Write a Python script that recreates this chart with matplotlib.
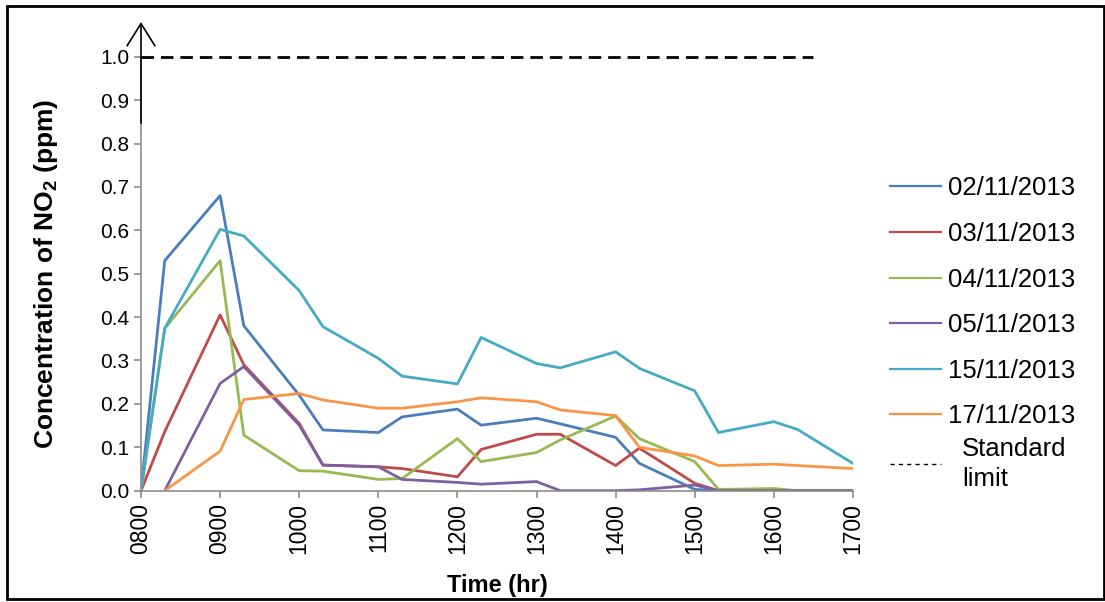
import numpy as np
import matplotlib
matplotlib.use("Agg")
import matplotlib.pyplot as plt
from matplotlib.patches import Rectangle

plt.rcParams['font.family'] = ['Liberation Sans', 'DejaVu Sans']
plt.rcParams['mathtext.fontset'] = 'custom'
plt.rcParams['mathtext.rm'] = 'Liberation Sans:bold'
plt.rcParams['mathtext.it'] = 'Liberation Sans:bold'
plt.rcParams['mathtext.bf'] = 'Liberation Sans:bold'

# waktu pengukuran (hhmm sebagai angka)
times = [800, 830, 900, 930, 1000, 1030, 1100, 1130, 1200, 1230,
         1300, 1330, 1400, 1430, 1500, 1530, 1600, 1630, 1700]
nan = np.nan

d0211 = [0.0, 0.53, 0.68, 0.38, 0.22, 0.14, 0.134, 0.17, 0.188, 0.151,
         0.167, 0.154, 0.123, 0.063, 0.003, 0.0, 0.0, 0.0, 0.0]
d0311 = [0.0, 0.136, 0.405, 0.29, 0.155, 0.059, 0.055, 0.051, 0.032, 0.095,
         0.13, 0.13, 0.058, 0.098, 0.017, 0.0, 0.0, 0.0, 0.0]
d0411 = [0.0, 0.374, 0.53, 0.128, 0.046, 0.045, 0.026, 0.028, 0.12, 0.067,
         0.088, 0.117, 0.172, 0.12, 0.067, 0.003, 0.005, 0.0, 0.0]
d0511 = [nan, 0.0, 0.247, 0.286, 0.151, 0.059, 0.055, 0.026, 0.019, 0.015,
         0.021, 0.0, 0.0, 0.002, 0.013, 0.0, 0.0, 0.0, 0.0]
d1511 = [0.0, 0.374, 0.602, 0.587, 0.461, 0.378, 0.305, 0.264, 0.246, 0.353,
         0.293, 0.283, 0.32, 0.282, 0.23, 0.134, 0.159, 0.141, 0.063]
d1711 = [nan, 0.0, 0.091, 0.21, 0.224, 0.209, 0.19, 0.19, 0.205, 0.214,
         0.205, 0.186, 0.173, 0.10, 0.08, 0.058, 0.061, 0.058, 0.051]

labels = ["02/11/2013", "03/11/2013", "04/11/2013", "05/11/2013",
          "15/11/2013", "17/11/2013"]
colors = ["#4A7EBB", "#BE4B48", "#98B954", "#7D60A0", "#46AAC5", "#F79646"]

limit_x = [800, 1650]
limit_y = [1.0, 1.0]

xticks = [800, 900, 1000, 1100, 1200, 1300, 1400, 1500, 1600, 1700]
yticks = [0.0, 0.1, 0.2, 0.3, 0.4, 0.5, 0.6, 0.7, 0.8, 0.9, 1.0]

fig = plt.figure(figsize=(11.05, 6.02), dpi=100)
ax = fig.add_axes([0.1276, 0.1849, 0.6443, 0.7209])

for y, lab, c in zip([d0211, d0311, d0411, d0511, d1511, d1711], labels, colors):
    ax.plot(times, y, color=c, lw=2.0, label=lab)
ax.plot(limit_x, limit_y, color='black', lw=2.0, dashes=(4.5, 2.5), clip_on=False)

ax.set_xlim(800, 1700)
ax.set_ylim(0, 1.0)
ax.set_xticks(xticks)
ax.set_xticklabels([f"{t:04d}" for t in xticks], rotation=90, fontsize=16.5)
ax.set_yticks(yticks)
ax.set_yticklabels([f"{v:.1f}" for v in yticks], fontsize=15)

for s in ['top', 'right']:
    ax.spines[s].set_visible(False)
for s in ['left', 'bottom']:
    ax.spines[s].set_color('#8C8C8C')
    ax.spines[s].set_linewidth(1.2)
ax.tick_params(axis='both', colors='#8C8C8C', labelcolor='black', length=5, width=1.2)
ax.tick_params(axis='x', pad=4)

# panah di sumbu y
ax.annotate("", xy=(800, 1.08), xytext=(800, 0.847),
            arrowprops=dict(arrowstyle='->,head_length=0.4,head_width=0.25',
                            lw=1.2, color='black', mutation_scale=40,
                            shrinkA=0, shrinkB=0),
            annotation_clip=False)

ax.set_xlabel("Time (hr)", fontsize=17, fontweight='bold', labelpad=14)
ax.set_ylabel("Concentration of NO$_2$ (ppm)", fontsize=19, fontweight='bold', labelpad=29)

# legenda tanggal
h1 = [plt.Line2D([], [], color=c, lw=1.6) for c in colors]
fig.legend(h1, labels, loc='upper left', bbox_to_anchor=(0.8055, 0.707),
           frameon=False, fontsize=18.5, handlelength=2.0, handletextpad=0.25,
           labelspacing=0.84, borderaxespad=0, borderpad=0)
# legenda batas standar
h2 = [plt.Line2D([], [], color='black', lw=1.0, dashes=(3, 3))]
leg2 = fig.legend(h2, ["Standard\nlimit"], loc='upper left', bbox_to_anchor=(0.8055, 0.274),
                  frameon=False, fontsize=18.5, handlelength=2.0, handletextpad=0.8,
                  borderaxespad=0, borderpad=0)
for t in leg2.get_texts():
    t.set_linespacing(1.3)

fig.patches.append(Rectangle((7 / 1105, 3 / 602), 1097 / 1105, 593 / 602,
                             transform=fig.transFigure, fill=False,
                             edgecolor='black', lw=2))

fig.savefig("out.png", dpi=100)
